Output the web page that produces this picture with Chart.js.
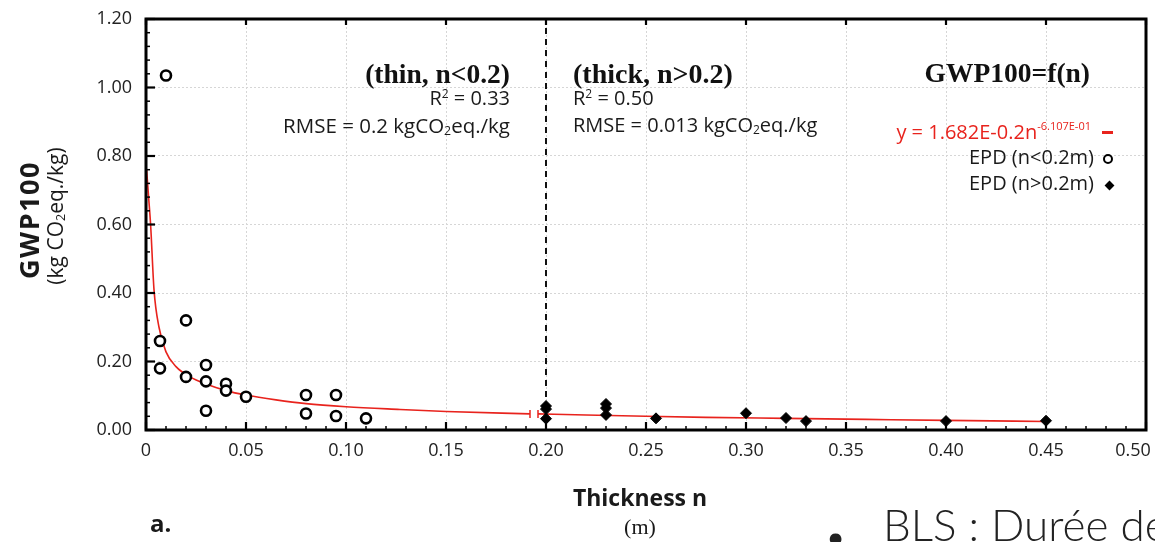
<!DOCTYPE html>
<html>
<head>
<meta charset="utf-8">
<script src="https://cdn.jsdelivr.net/npm/chart.js@4.4.0/dist/chart.umd.min.js"></script>
<style>
html,body{margin:0;padding:0;background:#fff;}
#wrap{position:relative;width:1155px;height:542px;overflow:hidden;background:#fff;}
#c{position:absolute;left:0;top:0;}
.t{position:absolute;white-space:nowrap;font-family:"Open Sans","Noto Sans",sans-serif;color:#1a1a1a;line-height:1;}
.serif{font-family:"Liberation Serif","DejaVu Serif",serif;font-weight:bold;color:#111;}
sub{font-size:60%;vertical-align:-0.15em;}
sup{font-size:60%;vertical-align:0.55em;}
.mk{position:absolute;}
</style>
</head>
<body>
<div id="wrap">
<canvas id="c" width="1155" height="542"></canvas>

<div class="t serif" style="right:645px;top:60px;font-size:27.5px;">(thin, n&lt;0.2)</div>
<div class="t" style="right:645px;top:88px;font-size:20px;">R<sup>2</sup> = 0.33</div>
<div class="t" style="right:645px;top:115px;font-size:20.5px;">RMSE = 0.2 kgCO<sub>2</sub>eq./kg</div>

<div class="t serif" style="left:573px;top:60px;font-size:28px;">(thick, n&gt;0.2)</div>
<div class="t" style="left:573px;top:88px;font-size:20px;">R<sup>2</sup> = 0.50</div>
<div class="t" style="left:573px;top:115px;font-size:20px;">RMSE = 0.013 kgCO<sub>2</sub>eq./kg</div>

<div class="t serif" style="right:65px;top:59px;font-size:27.5px;">GWP100=f(n)</div>
<div class="t" style="right:64px;top:120px;font-size:20px;color:#e8231d;">y = 1.682E-0.2n<span style="font-size:11px;vertical-align:9px;">-6.107E-01</span></div>
<div class="mk" style="left:1102px;top:131px;width:11px;height:2.5px;background:#e8231d;"></div>
<div class="t" style="right:61px;top:147px;font-size:20px;">EPD (n&lt;0.2m)</div>
<div class="mk" style="left:1103px;top:154px;width:6px;height:6px;border:2.5px solid #000;border-radius:50%;"></div>
<div class="t" style="right:61px;top:173px;font-size:20px;">EPD (n&gt;0.2m)</div>
<div class="mk" style="left:1105.5px;top:181.5px;width:7px;height:7px;background:#000;transform:rotate(45deg);"></div>

<div class="t" style="left:28px;top:220px;font-size:27px;font-weight:bold;letter-spacing:1.5px;transform:translate(-50%,-50%) rotate(-90deg);">GWP100</div>
<div class="t" style="left:56px;top:216px;font-size:21px;transform:translate(-50%,-50%) rotate(-90deg);">(kg CO<sub>2</sub>eq./kg)</div>

<div class="t" style="left:640px;top:497px;font-size:23px;font-weight:bold;transform:translate(-50%,-50%);">Thickness n</div>
<div class="t" style="left:640px;top:527px;font-size:22px;font-family:'Liberation Serif',serif;transform:translate(-50%,-50%);">(m)</div>
<div class="t" style="left:150px;top:511px;font-size:24px;font-weight:bold;">a.</div>

<div class="t" style="left:824px;top:516px;font-size:40px;font-family:Lato,'Open Sans',sans-serif;font-weight:300;color:#222;">•</div>
<div class="t" style="left:883px;top:502px;font-size:44px;font-family:Lato,'Open Sans',sans-serif;font-weight:300;color:#222;">BLS : Durée de</div>
</div>

<script>
// ---- data ----
const thinX = [0.01, 0.007, 0.007, 0.02, 0.02, 0.03, 0.03, 0.03, 0.04, 0.04, 0.05, 0.08, 0.08, 0.095, 0.095, 0.11];
const thinY = [1.035, 0.26, 0.18, 0.32, 0.155, 0.19, 0.142, 0.056, 0.135, 0.115, 0.097, 0.102, 0.048, 0.102, 0.041, 0.034];

const thickX = [0.2, 0.2, 0.2, 0.23, 0.23, 0.23, 0.255, 0.3, 0.32, 0.33, 0.4, 0.45];
const thickY = [0.070, 0.061, 0.033, 0.076, 0.064, 0.044, 0.034, 0.049, 0.035, 0.026, 0.026, 0.027];

const fitThinX = [0.0003, 0.0013, 0.0023, 0.004, 0.0065, 0.01, 0.015, 0.022, 0.03, 0.04, 0.05, 0.065, 0.08, 0.1, 0.127, 0.15, 0.192];
const fitThinY = [0.76, 0.68, 0.60, 0.41, 0.30, 0.228, 0.185, 0.155, 0.134, 0.115, 0.102, 0.088, 0.077, 0.068, 0.060, 0.054, 0.047];

const fitThickX = [0.196, 0.22, 0.25, 0.28, 0.32, 0.36, 0.40, 0.45];
const fitThickY = [0.047, 0.044, 0.040, 0.037, 0.034, 0.031, 0.028, 0.025];

const dividerX = [0.2, 0.2];
const dividerY = [0, 1.2];

const xTickValues = [0, 0.05, 0.1, 0.15, 0.2, 0.25, 0.3, 0.35, 0.4, 0.45, 0.5];
const yTickValues = [0, 0.2, 0.4, 0.6, 0.8, 1.0, 1.2];

const RED = '#e8231d';
const pts = (xs, ys) => xs.map((x, i) => ({x: x, y: ys[i]}));

// keep the last x label inside the page, as in the reference
const lastLabelShift = {
  id: 'lastLabelShift',
  beforeDraw(chart) {
    const items = chart.scales.x.getLabelItems(chart.chartArea);
    if (items.length) {
      const it = items[items.length - 1];
      if (!it._shifted) { it.options.translation[0] -= 13; it._shifted = true; }
    }
  }
};

const frame = {
  id: 'frame',
  afterDatasetsDraw(chart) {
    const {ctx, chartArea: a, scales: {x, y}} = chart;
    ctx.save();
    ctx.strokeStyle = '#000';
    ctx.lineWidth = 1.5;
    for (let i = 1; i < 50; i++) {
      if (i % 5 === 0) continue;
      const px = x.getPixelForValue(i / 100);
      ctx.beginPath(); ctx.moveTo(px, a.bottom); ctx.lineTo(px, a.bottom - 4); ctx.stroke();
    }
    for (let i = 1; i < 30; i++) {
      if (i % 5 === 0) continue;
      const py = y.getPixelForValue(i * 0.04);
      ctx.beginPath(); ctx.moveTo(a.left, py); ctx.lineTo(a.left + 4, py); ctx.stroke();
    }
    ctx.lineWidth = 2.2;
    xTickValues.forEach(v => {
      const px = x.getPixelForValue(v);
      ctx.beginPath(); ctx.moveTo(px, a.bottom); ctx.lineTo(px, a.bottom - 8); ctx.stroke();
      ctx.beginPath(); ctx.moveTo(px, a.top); ctx.lineTo(px, a.top + 6); ctx.stroke();
    });
    yTickValues.forEach(v => {
      const py = y.getPixelForValue(v);
      ctx.beginPath(); ctx.moveTo(a.left, py); ctx.lineTo(a.left + 9, py); ctx.stroke();
    });
    ctx.lineWidth = 3;
    ctx.strokeRect(a.left, a.top, a.right - a.left, a.bottom - a.top);
    ctx.restore();
  }
};

new Chart(document.getElementById('c'), {
  type: 'scatter',
  data: {
    datasets: [
      {
        label: 'fit thin', data: pts(fitThinX, fitThinY), showLine: true,
        borderColor: RED, borderWidth: 1.6, cubicInterpolationMode: 'monotone',
        pointStyle: 'line', rotation: 90, pointBorderColor: RED, pointBorderWidth: 1.5,
        pointRadius: c => (c.dataIndex === fitThinX.length - 1 ? 4 : 0), order: 3
      },
      {
        label: 'fit thick', data: pts(fitThickX, fitThickY), showLine: true,
        borderColor: RED, borderWidth: 1.6, cubicInterpolationMode: 'monotone',
        pointStyle: 'line', rotation: 90, pointBorderColor: RED, pointBorderWidth: 1.5,
        pointRadius: c => (c.dataIndex === 0 ? 4 : 0), order: 3
      },
      {
        label: 'n = 0.2', data: pts(dividerX, dividerY), showLine: true,
        borderColor: '#111', borderWidth: 2, borderDash: [6, 5], pointRadius: 0, order: 4
      },
      {
        label: 'EPD (n<0.2m)', data: pts(thinX, thinY),
        pointStyle: 'circle', pointRadius: 5, pointBorderWidth: 2.6,
        borderColor: '#000', backgroundColor: '#fff', order: 1
      },
      {
        label: 'EPD (n>0.2m)', data: pts(thickX, thickY),
        pointStyle: 'rectRot', pointRadius: 5.5, pointBorderWidth: 1,
        borderColor: '#000', backgroundColor: '#000', order: 0
      }
    ]
  },
  options: {
    responsive: false,
    animation: false,
    layout: {padding: {left: 0, right: 9, top: 19, bottom: 0}},
    plugins: {legend: {display: false}, tooltip: {enabled: false}},
    scales: {
      x: {
        type: 'linear', min: 0, max: 0.5,
        afterBuildTicks: s => { s.ticks = xTickValues.map(v => ({value: v})); },
        ticks: {
          callback: v => (v === 0 ? '0' : Number(v).toFixed(2)),
          font: {family: '"Open Sans", sans-serif', size: 18}, color: '#222',
          padding: 10, maxRotation: 0, autoSkip: false
        },
        grid: {color: '#d6d6d6', lineWidth: 1, drawTicks: false},
        border: {display: false, dash: [2, 2]},
        afterFit: s => { s.height = 112; s.paddingLeft = 0; s.paddingRight = 0; }
      },
      y: {
        type: 'linear', min: 0, max: 1.2,
        afterBuildTicks: s => { s.ticks = yTickValues.map(v => ({value: v})); },
        ticks: {
          callback: v => Number(v).toFixed(2),
          font: {family: '"Open Sans", sans-serif', size: 18}, color: '#222',
          padding: 14
        },
        grid: {color: '#d6d6d6', lineWidth: 1, drawTicks: false},
        border: {display: false, dash: [2, 2]},
        afterFit: s => { s.width = 146; s.paddingTop = 0; s.paddingBottom = 0; }
      }
    }
  },
  plugins: [lastLabelShift, frame]
});
</script>
</body>
</html>
